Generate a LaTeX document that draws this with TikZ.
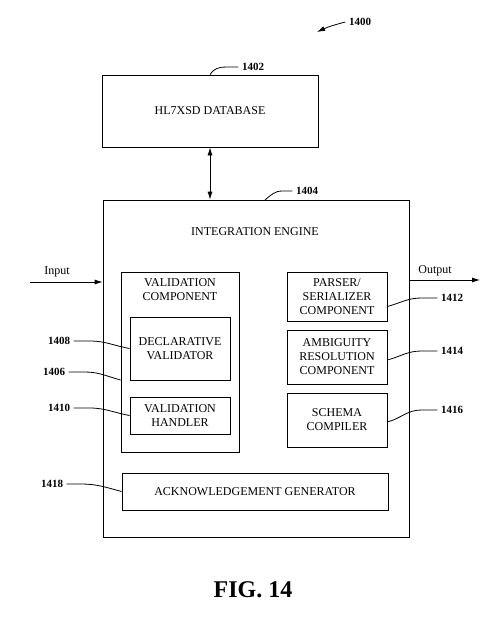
\documentclass[tikz,border=0pt]{standalone}
\usepackage{fontspec}
\setmainfont{Liberation Serif}
\usetikzlibrary{arrows.meta}
\begin{document}
\begin{tikzpicture}[x=1pt,y=-1pt,line width=0.8pt,
    every node/.style={font=\fontsize{12}{14}\selectfont},
    box/.style={draw,align=center,inner sep=0pt},
    num/.style={font=\fontsize{11}{13}\selectfont\bfseries},
    tip/.style={-{Latex[length=8pt,width=5pt]}},
    tips/.style={{Latex[length=8pt,width=5pt]}-{Latex[length=8pt,width=5pt]}}]
    \useasboundingbox (0,0) rectangle (500,623);

    \node[box,minimum width=216,minimum height=72] (db) at (210,111) {HL7XSD DATABASE};
    \node[box,minimum width=306,minimum height=337] (ie) at (256,368.5) {};
    \node (ieT) at (255,232) {INTEGRATION ENGINE};

    \node[box,minimum width=118,minimum height=180] (vc) at (180,362) {};
    \node[align=center] (vcT) at (180,290) {VALIDATION\\COMPONENT};
    \node[box,minimum width=100,minimum height=63] (dv) at (180,348.5) {DECLARATIVE\\VALIDATOR};
    \node[box,minimum width=100,minimum height=37] (vh) at (180,415.5) {VALIDATION\\HANDLER};

    \node[box,minimum width=100,minimum height=49] (ps) at (337,296.5) {PARSER/\\SERIALIZER\\COMPONENT};
    \node[box,minimum width=100,minimum height=54] (ar) at (337,357) {AMBIGUITY\\RESOLUTION\\COMPONENT};
    \node[box,minimum width=100,minimum height=54] (sc) at (337,420) {SCHEMA\\COMPILER};
    \node[box,minimum width=266,minimum height=37] (ag) at (255,491.5) {ACKNOWLEDGEMENT GENERATOR};

    \node (fig) at (253,590) {\fontsize{24}{28}\selectfont\bfseries FIG. 14};

    % reference numbers
    \node[num] (l1400) at (360,22) {1400};
    \node[num] (l1402) at (253,67) {1402};
    \node[num] (l1404) at (307,191) {1404};
    \node[num] (l1406) at (54,372) {1406};
    \node[num] (l1408) at (59,341) {1408};
    \node[num] (l1410) at (59,408) {1410};
    \node[num] (l1412) at (452,298) {1412};
    \node[num] (l1414) at (452,351) {1414};
    \node[num] (l1416) at (452,410) {1416};
    \node[num] (l1418) at (52,484) {1418};
    \coordinate (c1400) at (317,32);

    \draw[tip] (l1400.west) to[out=195,in=25] (c1400);
    \draw (l1402.west) -- ++(-12,0) to[out=180,in=60] (db.north);
    \draw (l1404.west) -- ++(-10,0) to[out=180,in=40] (265,200);
    \draw (l1408.east) -- ++(16,0) to[out=0,in=170] (dv.west);
    \draw (l1406.east) -- ++(16,0) to[out=0,in=165] ([yshift=-18]vc.west);
    \draw (l1410.east) -- ++(16,0) to[out=0,in=170] (vh.west);
    \draw (l1412.west) -- ++(-16,0) to[out=180,in=15] ([yshift=-10]ps.east);
    \draw (l1414.west) -- ++(-16,0) to[out=180,in=15] ([yshift=-3]ar.east);
    \draw (l1416.west) -- ++(-16,0) to[out=180,in=15] ([yshift=-2]sc.east);
    \draw (l1418.east) -- ++(14,0) to[out=0,in=165] (ag.west);

    % data flow
    \draw[tips] (db.south) -- (db.south |- ie.north);
    \coordinate (in) at (30,282);
    \coordinate (out) at (480,280);
    \draw[tip] (in) -- (in -| ie.west);
    \draw[tip] (out -| ie.east) -- (out);
    \node (inT) at (57,272) {Input};
    \node (outT) at (435,271) {Output};
\end{tikzpicture}
\end{document}
